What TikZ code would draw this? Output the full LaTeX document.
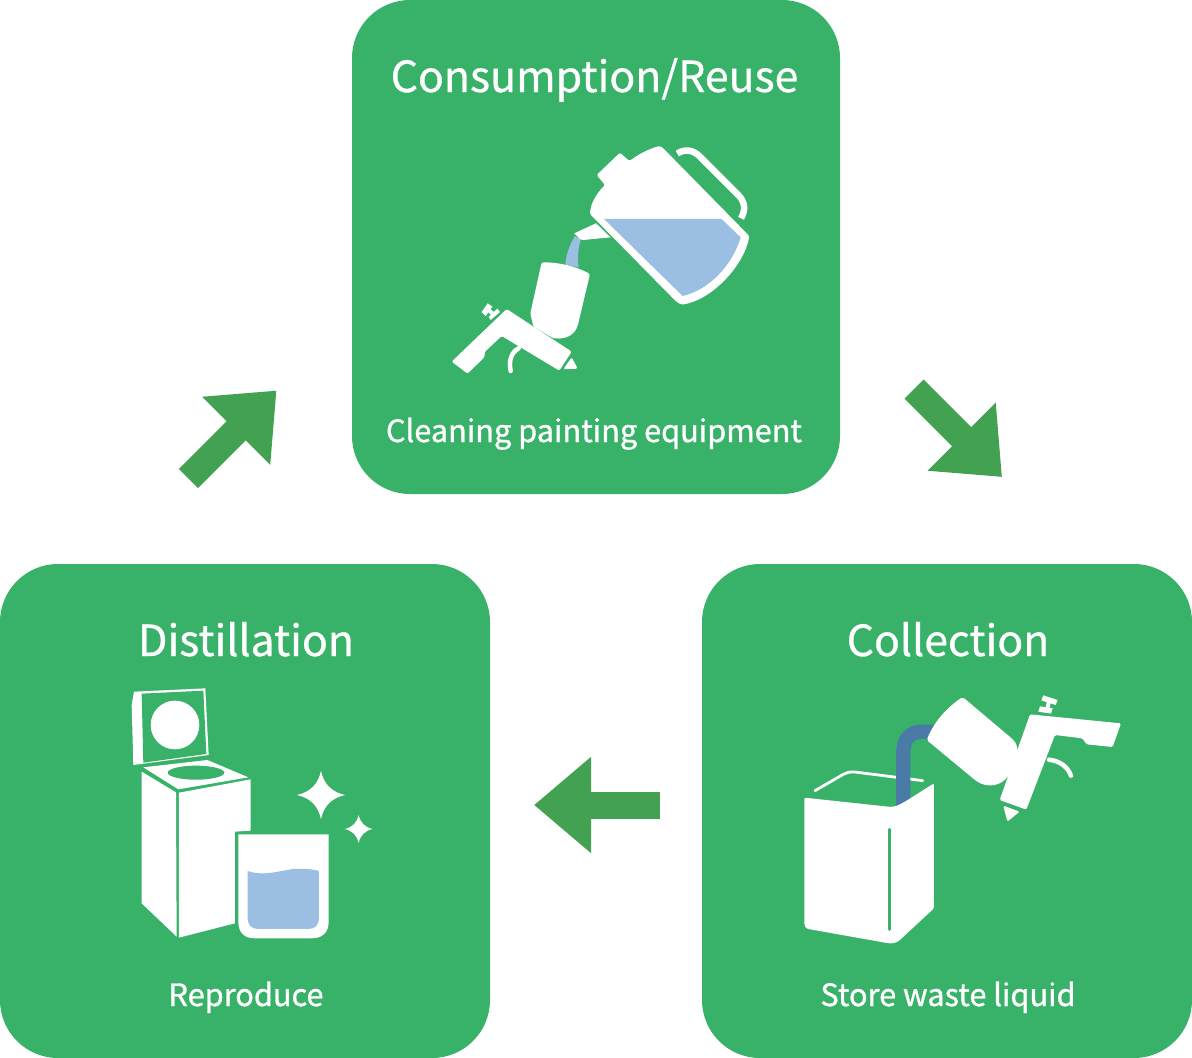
\documentclass[tikz,border=0pt]{standalone}
\usepackage{fontspec}
\setmainfont[FakeBold=0.7]{Noto Sans CJK JP}
\newfontfamily\subfont[FakeBold=1]{Noto Sans CJK JP}
\usetikzlibrary{arrows.meta}
\definecolor{panelgreen}{HTML}{38B169}
\definecolor{arrowgreen}{HTML}{43A252}
\definecolor{liquidblue}{HTML}{9BBFE2}
\definecolor{wasteblue}{HTML}{4A7BA6}
\tikzset{
  panel/.style={fill=panelgreen,rounded corners=58pt,minimum width=#1,minimum height=494pt,inner sep=0pt},
  titletext/.style={text=white,anchor=base,font=\fontsize{42.8}{50}\selectfont},
  subtext/.style={text=white,anchor=base,font=\subfont\fontsize{30.7}{38}\selectfont},
  blockarrow/.style={draw=arrowgreen,line width=27pt,-{Triangle[length=57pt,width=92.5pt]}},
  icon/.style={fill=white,rounded corners=1.4pt},
  iconline/.style={draw=white,line width=#1,line cap=round}
}
\newcommand{\sparkle}[3]{
  \fill[white] (#1-#3,#2) .. controls (#1-#3*.45,#2-#3*.12) and (#1-#3*.12,#2-#3*.45) .. (#1,#2-#3)
    .. controls (#1+#3*.12,#2-#3*.45) and (#1+#3*.45,#2-#3*.12) .. (#1+#3,#2)
    .. controls (#1+#3*.45,#2+#3*.12) and (#1+#3*.12,#2+#3*.45) .. (#1,#2+#3)
    .. controls (#1-#3*.12,#2+#3*.45) and (#1-#3*.45,#2+#3*.12) .. cycle;
}
\begin{document}
\begin{tikzpicture}[x=1pt,y=-1pt]
        \useasboundingbox (0,0) rectangle (1192,1058);

        \node[panel=488pt] (reuse)      at (596,247)  {};
        \node[panel=490pt] (distill)    at (245,811)  {};
        \node[panel=490pt] (collection) at (947,811)  {};

        \node[titletext] (reusetitle)      at (594.5,92)  {Consumption/Reuse};
        \node[titletext] (distilltitle)    at (246,656)   {Distillation};
        \node[titletext] (collectiontitle) at (948,656)   {Collection};
        \node[subtext] (reusesub)      at (594,442)   {Cleaning painting equipment};
        \node[subtext] (distillsub)    at (246,1006)  {Reproduce};
        \node[subtext] (collectionsub) at (948,1006)  {Store waste liquid};

        \coordinate (a1) at (188.5,478.5);
        \coordinate (a2) at (276.5,390.5);
        \coordinate (b1) at (914,389);
        \coordinate (b2) at (1002,477);
        \coordinate (c1) at (659.5,805);
        \coordinate (c2) at (534,805);
        \draw[blockarrow] (a1) -- (a2);
        \draw[blockarrow] (b1) -- (b2);
        \draw[blockarrow] (c1) -- (c2);

        % kettle and spray gun
        \begin{scope}[shift={(440,130)},x=.3333pt,y=-.3333pt]
          \fill[liquidblue] (405,318) .. controls (388,345) and (378,375) .. (376,404)
            -- (416,412) .. controls (412,385) and (414,355) .. (422,330) -- cycle;
          \fill[white] (403,310) -- (468,280) -- (512,322) -- (430,330) -- (420,328) -- cycle;
          \fill[icon] (470,135) -- (540,68) -- (568,93) .. controls (600,70) and (630,55) .. (660,48)
            -- (668,53) -- (928,318) .. controls (915,400) and (820,510) .. (725,524)
            -- (710,516) -- (450,252) .. controls (452,220) and (470,190) .. (495,165) -- cycle;
          \draw[panelgreen!45!white,line width=.3pt] (468,280) -- (512,323);
          \fill[liquidblue] (492,267) -- (845,267) -- (902,322) .. controls (880,400) and (810,480) .. (728,498) -- cycle;
          \draw[white,line width=6.5pt] (712,71) .. controls (735,55) and (760,60) .. (780,80)
            -- (895,195) .. controls (915,215) and (918,240) .. (903,265);
          \fill[icon] (305,397) .. controls (360,397) and (410,410) .. (450,432)
            -- (415,580) .. controls (405,615) and (380,628) .. (340,625) -- (280,590) -- (271,550) -- cycle;
          \fill[icon] (200,537) -- (395,665) -- (358,722) -- (185,618) -- (135,665) -- (133,682) -- (83,731) -- (35,695) -- cycle;
          \fill[icon] (395,682) -- (413,716) -- (370,718) -- cycle;
          \draw[iconline=4.5pt] (236,655) .. controls (212,668) and (206,695) .. (212,723);
          \fill[white] (125,546) -- (143,520) -- (157,530) -- (137,558) -- cycle;
          \fill[white] (146,561) -- (172,536) -- (180,546) -- (152,570) -- cycle;
          \draw[white,line width=4pt] (145,540) -- (160,552);
        \end{scope}

        % still and clean glass
        \begin{scope}[shift={(120,680)},x=.3333pt,y=-.3333pt]
          \fill[white] (42,35) -- (256,25) -- (266,225) -- (40,255) -- (35,75) -- cycle;
          \fill[panelgreen] (65,41) -- (250,32) -- (259,222) -- (70,248) -- cycle;
          \fill[white] (165,135) circle (73);
          \fill[white] (70,262) -- (262,240) -- (385,292) -- (175,328) -- cycle;
          \fill[panelgreen] (228,278) ellipse (85 and 21);
          \fill[white] (65,275) -- (168,337) -- (170,770) -- (65,670) -- cycle;
          \fill[white] (177,338) -- (392,298) -- (392,452) -- (345,455) -- (345,730) -- (177,773) -- cycle;
          \fill[white] (355,463) -- (626,463) -- (626,725) .. controls (626,760) and (605,775) .. (575,775)
            -- (405,775) .. controls (375,775) and (355,760) .. (355,725) -- cycle;
          \fill[liquidblue] (383,573) .. controls (430,590) and (480,572) .. (520,567)
            .. controls (550,565) and (575,567) .. (597,573) -- (597,715) .. controls (597,735) and (585,747) .. (565,747)
            -- (415,747) .. controls (395,747) and (383,735) .. (383,715) -- cycle;
          \sparkle{603}{345}{72}
          \sparkle{716}{447}{42}
        \end{scope}

        % waste can, bottle and spray gun
        \begin{scope}[shift={(795,685)},x=.3333pt,y=-.3333pt]
          \draw[iconline=2.8pt] (60,317) -- (145,268) .. controls (155,262) and (165,260) .. (180,261) -- (383,287);
          \draw[wasteblue,line width=14.3pt] (325,365) -- (325,200) .. controls (325,165) and (345,140) .. (380,140) -- (425,140);
          \fill[icon] (28,338) -- (280,365) .. controls (300,367) and (315,358) .. (330,350) -- (417,295)
            -- (417,670) -- (320,760) .. controls (305,775) and (290,777) .. (270,773) -- (45,733) .. controls (30,730) and (28,720) .. (28,710) -- cycle;
          \draw[panelgreen,line width=3pt,line cap=round] (285,433) -- (285,733);
          \fill[white,rounded corners=2pt] (395,165) .. controls (420,105) and (460,65) .. (503,36) -- (650,160)
            .. controls (675,185) and (670,215) .. (645,265) .. controls (620,305) and (575,310) .. (540,285) -- cycle;
          \fill[icon] (705,88) -- (978,115) -- (953,186) -- (875,178) -- (862,160) -- (780,150) -- (694,374) -- (614,345) -- cycle;
          \fill[icon] (625,362) -- (674,380) -- (637,410) -- cycle;
          \draw[iconline=4.5pt] (762,224) .. controls (795,228) and (818,245) .. (828,272);
          \fill[white] (745,31) -- (788,45) -- (782,60) -- (739,46) -- cycle;
          \fill[white] (735,64) -- (773,70) -- (768,86) -- (730,80) -- cycle;
          \draw[white,line width=4pt] (762,50) -- (757,72);
        \end{scope}

      \end{tikzpicture}
\end{document}
